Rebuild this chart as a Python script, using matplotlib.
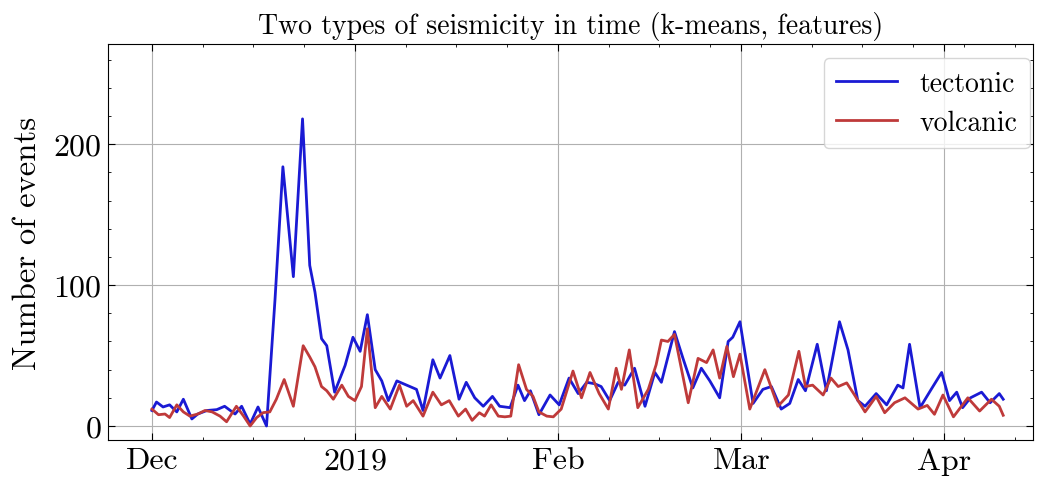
import matplotlib
matplotlib.use("Agg")
import matplotlib.pyplot as plt
from matplotlib.ticker import AutoMinorLocator
import numpy as np
import pandas as pd

plt.rcParams["font.family"] = ["cmr10", "DejaVu Serif"]
plt.rcParams["mathtext.fontset"] = "cm"
plt.rcParams["axes.formatter.use_mathtext"] = True

start = pd.Timestamp("2018-12-01")

# day offsets from 2018-12-01 and number of events
tect_days = [0, 0.7, 1.7, 2.7, 3.8, 4.8, 6.1, 7, 8.4, 9.9, 11.1, 12.7, 13.7, 15, 16.2,
             17.5, 18.8, 20, 21.6, 23, 24.1, 24.9, 25.9, 26.7, 27.9, 29.5, 30.7, 31.8,
             32.9, 34.1, 35.1, 36.1, 37.4, 38.9, 40.4, 41.4, 42.9, 44, 45.5, 46.9, 48,
             49.3, 50.6, 52, 53.1, 54.7, 55.9, 56.9, 57.8, 59.1, 60.8, 62.2, 63.7, 65.1,
             66.4, 67.6, 68.6, 69.9, 71.2, 72.2, 73.7, 75.3, 76.8, 77.8, 79.8, 81.1, 82.6,
             83.9, 85.2, 86.7, 88, 88.7, 89.8, 91.8, 93.3, 94.6, 96.1, 97.4, 98.7, 99.8,
             101.6, 103, 105, 106.3, 107.8, 108.9, 110.6, 112.2, 113.9, 114.7, 115.7,
             117.3, 119, 120.6, 121.8, 122.9, 123.8, 125, 126.7, 128, 129.4, 130]
tectonic = [11, 17, 13.5, 15, 10, 19, 5, 8.5, 11, 11.6, 14, 8.5, 14, 1.4, 13.5,
            0, 90, 184, 106, 218, 114, 95, 62, 57, 24, 43, 63, 53,
            79, 40, 32, 18, 32, 29, 26, 11, 47, 34, 50, 19, 31,
            20, 14, 21, 14, 13, 29, 18, 25, 8, 22, 15, 34, 23,
            31, 30, 28, 18, 31, 29, 41, 14, 38, 31, 67, 48, 27,
            41, 32, 20, 60, 63, 74, 16, 26, 28, 12, 16, 33, 25,
            58, 25, 74, 54, 18, 14, 23, 15, 29, 27, 58,
            13, 26, 38, 18, 24, 13, 20, 24, 16.5, 23, 19]

volc_days = [0, 1, 2, 2.7, 3.8, 4.8, 5.8, 7, 8.1, 9.2, 10.4, 11.4, 12.9, 14, 15, 16,
             17, 18, 19, 20.2, 21.6, 23.1, 24.1, 24.9, 25.9, 26.7, 27.7, 29, 30, 31,
             32, 32.9, 34.1, 35.1, 36.4, 37.8, 38.9, 39.9, 41.4, 42.9, 44.2, 45.4, 46.8,
             47.9, 48.9, 50, 50.8, 51.8, 52.9, 53.9, 54.8, 56, 57.2, 58.2, 59.1, 60.3,
             61.3, 62.5, 64.3, 65.6, 66.9, 68.3, 69.7, 70.9, 71.7, 72.9, 74.2, 75.8, 77,
             77.8, 78.8, 79.8, 81.9, 83.4, 84.7, 85.7, 86.7, 87.8, 88.8, 89.8, 91.3, 93.6,
             95.6, 97.2, 98.8, 99.8, 100.9, 102.5, 103.7, 104.8, 106.1, 107.3, 108.9,
             110.6, 111.9, 113.4, 115, 117, 118.4, 119.5, 120.8, 122.4, 124.6, 126.4,
             128.2, 129.4, 130]
volcanic = [12, 8, 8.5, 6, 15, 10, 7, 8.5, 11, 10, 7, 3, 14, 7, 0, 6,
            9.5, 10, 19, 33, 14, 57, 49, 42, 28, 25, 19, 29, 21, 18,
            28, 69, 13, 21, 12, 29, 14, 18, 7, 24, 15, 18, 7,
            12, 4, 9.4, 7, 15, 7, 6.5, 7, 43.5, 26, 21, 10, 7,
            6.5, 12, 39, 20, 38, 23, 12, 41, 26, 54, 13, 26, 43.5,
            61, 60, 65, 16.5, 48, 45, 54, 34, 56.5, 35, 51, 12, 40,
            14, 22, 53, 28, 29, 22, 34, 28, 30.6, 22, 10,
            21, 9.4, 16.5, 20, 12, 14.6, 8.3, 22, 6.5, 20, 10.6,
            19, 14, 7.6]

month_ticks = ["2018-12-01", "2019-01-01", "2019-02-01", "2019-03-01", "2019-04-01"]
month_labels = ["Dec", "2019", "Feb", "Mar", "Apr"]

t_dates = start + pd.to_timedelta(tect_days, unit="D")
v_dates = start + pd.to_timedelta(volc_days, unit="D")

fig = plt.figure(figsize=(10.41, 4.81), dpi=100)
ax = fig.add_axes([0.104, 0.083, 0.888, 0.823])

ax.plot(t_dates, tectonic, color="#1a1ad4", lw=2.0, label="tectonic",
        solid_joinstyle="round")
ax.plot(v_dates, volcanic, color="#bf3a3a", lw=2.0, label="volcanic",
        solid_joinstyle="round")

ax.set_xlim(pd.Timestamp("2018-11-24 08:00"), pd.Timestamp("2019-04-14 12:00"))
ax.set_ylim(-10, 271)
ax.set_xticks(pd.to_datetime(month_ticks))
ax.set_xticklabels(month_labels)
ax.set_yticks([0, 100, 200])
ax.yaxis.set_minor_locator(AutoMinorLocator(5))
ax.xaxis.set_minor_locator(AutoMinorLocator(4))

ax.tick_params(which="both", direction="in", top=True, right=True)
ax.tick_params(which="major", length=5, width=0.8, labelsize=23, pad=5)
ax.tick_params(which="minor", length=2.5, width=0.6)
ax.grid(True, which="major", color="#b0b0b0", lw=0.8)

ax.set_ylabel("Number of events", fontsize=23.5, labelpad=8)
ax.set_title("Two types of seismicity in time (k-means, features)", fontsize=20, pad=8)
ax.legend(loc="upper right", bbox_to_anchor=(1.012, 1.0), fontsize=20,
          handlelength=2.2, borderpad=0.45, labelspacing=0.45)

plt.savefig("out.png", dpi=100)
